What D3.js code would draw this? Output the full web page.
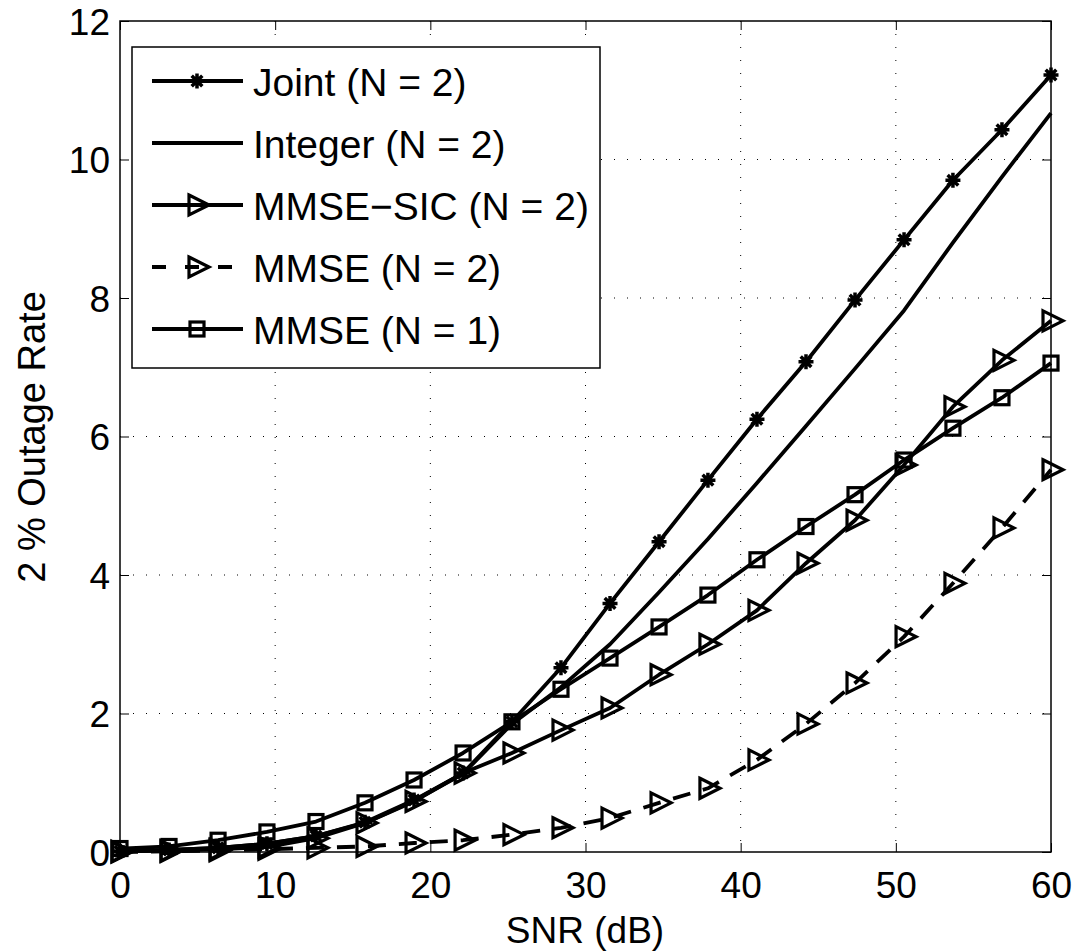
<!DOCTYPE html>
<html><head><meta charset="utf-8">
<script src="https://cdn.jsdelivr.net/npm/d3@7"></script>
<style>body{margin:0;background:#fff}</style>
</head><body>
<svg id="c" width="1076" height="951"></svg>
<script>
const snr = [0,3.16,6.32,9.47,12.63,15.79,18.95,22.11,25.26,28.42,31.58,34.74,37.89,41.05,44.21,47.37,50.53,53.68,56.84,60];
const joint   = [0.01,0.03,0.06,0.12,0.23,0.43,0.75,1.14,1.88,2.66,3.59,4.48,5.37,6.25,7.08,7.97,8.84,9.70,10.43,11.22];
const integer = [0.01,0.03,0.06,0.12,0.23,0.42,0.74,1.13,1.85,2.38,3.00,3.75,4.52,5.33,6.15,6.98,7.82,8.80,9.75,10.67];
const mmseSic = [0.01,0.02,0.04,0.07,0.20,0.42,0.73,1.14,1.43,1.76,2.08,2.56,3.00,3.49,4.17,4.79,5.59,6.43,7.10,7.67];
const mmse2   = [0.00,0.01,0.02,0.04,0.06,0.08,0.13,0.17,0.25,0.35,0.49,0.71,0.92,1.33,1.85,2.44,3.11,3.88,4.68,5.52];
const mmse1   = [0.05,0.08,0.17,0.29,0.44,0.71,1.04,1.43,1.88,2.35,2.80,3.25,3.71,4.22,4.70,5.16,5.66,6.12,6.56,7.06];
const xTicks = [0,10,20,30,40,50,60];
const yTicks = [0,2,4,6,8,10,12];
const series = [
  {name:"Joint (N = 2)", values:joint, marker:"star", dash:null},
  {name:"Integer (N = 2)", values:integer, marker:null, dash:null},
  {name:"MMSE\u2212SIC (N = 2)", values:mmseSic, marker:"tri", dash:null},
  {name:"MMSE (N = 2)", values:mmse2, marker:"tri", dash:"18,13"},
  {name:"MMSE (N = 1)", values:mmse1, marker:"sq", dash:null}
];

const L=120,R=1051,T=21,B=852;
const svg=d3.select("#c");
const x=d3.scaleLinear().domain([0,60]).range([L,R]);
const y=d3.scaleLinear().domain([0,12]).range([B,T]);
const font="Liberation Sans, Arial, Helvetica, sans-serif";

// grid
const g=svg.append("g");
xTicks.slice(1,-1).forEach(t=>g.append("line").attr("x1",x(t)).attr("x2",x(t)).attr("y1",T).attr("y2",B)
  .attr("stroke","#000").attr("stroke-width",1).attr("stroke-dasharray","1,12"));
yTicks.slice(1,-1).forEach(t=>g.append("line").attr("y1",y(t)).attr("y2",y(t)).attr("x1",L).attr("x2",R)
  .attr("stroke","#000").attr("stroke-width",1).attr("stroke-dasharray","1,12"));

// axes
const tl=9;
svg.append("g").attr("transform",`translate(0,${B})`).call(d3.axisBottom(x).tickValues(xTicks).tickSize(-tl).tickPadding(0))
  .call(a=>{a.select(".domain").remove();a.selectAll("text").attr("dy",null).attr("y",46).attr("font-size",37).attr("font-family",font).attr("fill","#000");});
svg.append("g").attr("transform",`translate(0,${T})`).call(d3.axisTop(x).tickValues(xTicks).tickSize(-tl).tickFormat(""))
  .call(a=>a.select(".domain").remove());
svg.append("g").attr("transform",`translate(${L},0)`).call(d3.axisLeft(y).tickValues(yTicks).tickSize(-tl).tickPadding(0))
  .call(a=>{a.select(".domain").remove();a.selectAll("text").attr("x",-10).attr("dy","0.36em").attr("font-size",37).attr("font-family",font).attr("fill","#000");});
svg.append("g").attr("transform",`translate(${R},0)`).call(d3.axisRight(y).tickValues(yTicks).tickSize(-tl).tickFormat(""))
  .call(a=>a.select(".domain").remove());
svg.selectAll(".tick line").attr("stroke","#000").attr("stroke-width",1);
svg.append("rect").attr("x",L).attr("y",T).attr("width",R-L).attr("height",B-T).attr("fill","none").attr("stroke","#000").attr("stroke-width",1.5);

// markers
function drawMarker(sel,type,cx,cy){
  if(type==="star"){
    const r=7.5;
    let d="";
    for(let k=0;k<4;k++){const a=k*Math.PI/4;d+=`M${cx-r*Math.cos(a)},${cy-r*Math.sin(a)}L${cx+r*Math.cos(a)},${cy+r*Math.sin(a)}`;}
    sel.append("path").attr("d",d).attr("stroke","#000").attr("stroke-width",3.5).attr("fill","none");
  } else if(type==="tri"){
    sel.append("path").attr("d",`M${cx-8},${cy-10}L${cx+12},${cy}L${cx-8},${cy+10}Z`).attr("stroke","#000").attr("stroke-width",3.2).attr("fill","none").attr("stroke-linejoin","miter");
  } else if(type==="sq"){
    sel.append("rect").attr("x",cx-7).attr("y",cy-7).attr("width",14).attr("height",14).attr("stroke","#000").attr("stroke-width",3.2).attr("fill","none");
  }
}

const line=d3.line().x((d,i)=>x(snr[i])).y(d=>y(d));
const plot=svg.append("g");
series.forEach(s=>{
  plot.append("path").attr("d",line(s.values)).attr("fill","none").attr("stroke","#000").attr("stroke-width",3.8)
    .attr("stroke-dasharray",s.dash).attr("stroke-linejoin","round");
  if(s.marker) s.values.forEach((v,i)=>drawMarker(plot,s.marker,x(snr[i]),y(v)));
});

// legend
const lg=svg.append("g");
lg.append("rect").attr("x",132).attr("y",47).attr("width",468).attr("height",321).attr("fill","#fff").attr("stroke","#000").attr("stroke-width",1.5);
series.forEach((s,i)=>{
  const cy=81+i*62;
  lg.append("line").attr("x1",152).attr("x2",243).attr("y1",cy).attr("y2",cy).attr("stroke","#000").attr("stroke-width",3.8)
    .attr("stroke-dasharray",s.dash?"14,19":null);
  if(s.marker) drawMarker(lg,s.marker,197,cy);
  lg.append("text").attr("x",253).attr("y",cy+15).attr("font-size",39).attr("font-family",font).text(s.name);
});

// axis labels
svg.append("text").attr("x",585).attr("y",943).attr("text-anchor","middle").attr("font-size",37).attr("font-family",font).text("SNR (dB)");
svg.append("text").attr("transform",`translate(45,437) rotate(-90)`).attr("text-anchor","middle").attr("font-size",38).attr("font-family",font).text("2 % Outage Rate");
</script>
</body></html>
